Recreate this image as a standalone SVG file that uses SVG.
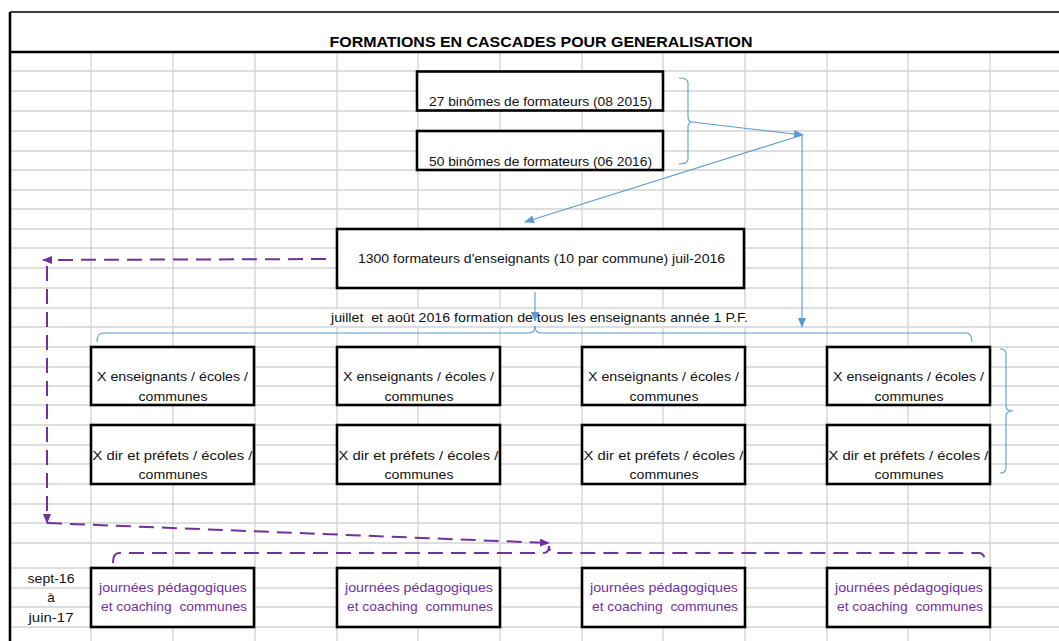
<svg xmlns="http://www.w3.org/2000/svg" width="1059" height="641" viewBox="0 0 1059 641">
<style>
.grid{stroke:#d4d4d4;stroke-width:1.4;fill:none}
.frame{stroke:#000;fill:none}
.box{fill:#fff;stroke:#000;stroke-width:2.6}
text{white-space:pre}
.t{font-family:"Liberation Sans",Arial,sans-serif;font-size:13.5px;fill:#111;text-anchor:middle}
.tp{font-family:"Liberation Sans",Arial,sans-serif;font-size:13.5px;fill:#7030A0;text-anchor:middle}
.title{font-family:"Liberation Sans",Arial,sans-serif;font-size:15px;font-weight:bold;fill:#000;text-anchor:middle}
.blue{stroke:#5B9BD5;stroke-width:1.1;fill:none}
.purple{stroke:#7030A0;stroke-width:2;fill:none;stroke-dasharray:15 8}
</style>
<defs>
<marker id="ab" markerUnits="userSpaceOnUse" markerWidth="10" markerHeight="8" refX="9" refY="4" orient="auto">
<path d="M0,0 L10,4 L0,8 z" fill="#5B9BD5"/>
</marker>
<marker id="ap" markerUnits="userSpaceOnUse" markerWidth="10" markerHeight="8" refX="9" refY="4" orient="auto">
<path d="M0,0 L10,4 L0,8 z" fill="#7030A0"/>
</marker>
</defs>
<rect x="0" y="0" width="1059" height="641" fill="#fff"/>
<g id="grid" class="grid">
<path d="M91,52V641M173,52V641M255,52V641M990,52V641M908,52V641M827,52V641"/>
<path d="M337,52V308M337,327V641M418,52V308M418,327V641M500,52V308M500,327V641M582,52V308M582,327V641M663,52V308M663,327V641M745,52V308M745,327V641"/>
<path d="M10,71H1059M10,91H1059M10,111H1059M10,131H1059M10,151H1059M10,170H1059M10,190H1059M10,209H1059M10,229H1059M10,248H1059M10,268H1059M10,288H1059M10,308H1059M10,327H1059M10,347H1059M10,367H1059M10,386H1059M10,405H1059M10,425H1059M10,445H1059M10,464H1059M10,484H1059M10,504H1059M10,523H1059M10,543H1059M10,568H1059M10,588H1059M10,607H1059M10,627H1059"/>
</g>
<g id="frame">
<path class="frame" stroke-width="1.4" d="M10,12H1059"/>
<path class="frame" stroke-width="2.6" d="M10,52H1059M10,12V641"/>
<text class="title" x="541" y="47" textLength="423" lengthAdjust="spacingAndGlyphs">FORMATIONS EN CASCADES POUR GENERALISATION</text>
</g>
<g id="n-binomes-2015"><rect class="box" x="417" y="71.5" width="246" height="39"/><text class="t" x="540.5" y="106" textLength="223" lengthAdjust="spacingAndGlyphs">27 binômes de formateurs (08 2015)</text></g>
<g id="n-binomes-2016"><rect class="box" x="417" y="131" width="246" height="39"/><text class="t" x="540.5" y="166" textLength="223" lengthAdjust="spacingAndGlyphs">50 binômes de formateurs (06 2016)</text></g>
<g id="n-formateurs"><rect class="box" x="337" y="229" width="407" height="59"/><text class="t" x="541.5" y="263" textLength="367" lengthAdjust="spacingAndGlyphs">1300 formateurs d'enseignants (10 par commune) juil-2016</text></g>
<g id="n-label-juillet"><text class="t" x="539.5" y="322" textLength="417" lengthAdjust="spacingAndGlyphs">juillet  et août 2016 formation de tous les enseignants année 1 P.F.</text></g>
<g id="n-ens-1"><rect class="box" x="91" y="347" width="163" height="58"/><text class="t" x="172.5" y="381" textLength="151" lengthAdjust="spacingAndGlyphs">X enseignants / écoles /</text><text class="t" x="173" y="401" textLength="69" lengthAdjust="spacingAndGlyphs">communes</text></g>
<g id="n-ens-2"><rect class="box" x="337" y="347" width="163" height="58"/><text class="t" x="418.5" y="381" textLength="151" lengthAdjust="spacingAndGlyphs">X enseignants / écoles /</text><text class="t" x="419" y="401" textLength="69" lengthAdjust="spacingAndGlyphs">communes</text></g>
<g id="n-ens-3"><rect class="box" x="582" y="347" width="163" height="58"/><text class="t" x="663.5" y="381" textLength="151" lengthAdjust="spacingAndGlyphs">X enseignants / écoles /</text><text class="t" x="664" y="401" textLength="69" lengthAdjust="spacingAndGlyphs">communes</text></g>
<g id="n-ens-4"><rect class="box" x="827" y="347" width="163" height="58"/><text class="t" x="908.5" y="381" textLength="151" lengthAdjust="spacingAndGlyphs">X enseignants / écoles /</text><text class="t" x="909" y="401" textLength="69" lengthAdjust="spacingAndGlyphs">communes</text></g>
<g id="n-dir-1"><rect class="box" x="91" y="425" width="163" height="59"/><text class="t" x="172.5" y="460" textLength="160" lengthAdjust="spacingAndGlyphs">X dir et préfets / écoles /</text><text class="t" x="173" y="479" textLength="69" lengthAdjust="spacingAndGlyphs">communes</text></g>
<g id="n-dir-2"><rect class="box" x="337" y="425" width="163" height="59"/><text class="t" x="418.5" y="460" textLength="160" lengthAdjust="spacingAndGlyphs">X dir et préfets / écoles /</text><text class="t" x="419" y="479" textLength="69" lengthAdjust="spacingAndGlyphs">communes</text></g>
<g id="n-dir-3"><rect class="box" x="582" y="425" width="163" height="59"/><text class="t" x="663.5" y="460" textLength="160" lengthAdjust="spacingAndGlyphs">X dir et préfets / écoles /</text><text class="t" x="664" y="479" textLength="69" lengthAdjust="spacingAndGlyphs">communes</text></g>
<g id="n-dir-4"><rect class="box" x="827" y="425" width="163" height="59"/><text class="t" x="908.5" y="460" textLength="160" lengthAdjust="spacingAndGlyphs">X dir et préfets / écoles /</text><text class="t" x="909" y="479" textLength="69" lengthAdjust="spacingAndGlyphs">communes</text></g>
<g id="n-periode"><text class="t" x="51" y="583" textLength="47" lengthAdjust="spacingAndGlyphs">sept-16</text><text class="t" x="51" y="602">à</text><text class="t" x="51" y="622" textLength="45" lengthAdjust="spacingAndGlyphs">juin-17</text></g>
<g id="n-jp-1"><rect class="box" x="91" y="568" width="163" height="59"/><text class="tp" x="173" y="592" textLength="148" lengthAdjust="spacingAndGlyphs">journées pédagogiques</text><text class="tp" x="174" y="611" textLength="146" lengthAdjust="spacingAndGlyphs">et coaching  communes</text></g>
<g id="n-jp-2"><rect class="box" x="337" y="568" width="163" height="59"/><text class="tp" x="419" y="592" textLength="148" lengthAdjust="spacingAndGlyphs">journées pédagogiques</text><text class="tp" x="420" y="611" textLength="146" lengthAdjust="spacingAndGlyphs">et coaching  communes</text></g>
<g id="n-jp-3"><rect class="box" x="582" y="568" width="163" height="59"/><text class="tp" x="664" y="592" textLength="148" lengthAdjust="spacingAndGlyphs">journées pédagogiques</text><text class="tp" x="665" y="611" textLength="146" lengthAdjust="spacingAndGlyphs">et coaching  communes</text></g>
<g id="n-jp-4"><rect class="box" x="827" y="568" width="163" height="59"/><text class="tp" x="909" y="592" textLength="148" lengthAdjust="spacingAndGlyphs">journées pédagogiques</text><text class="tp" x="910" y="611" textLength="146" lengthAdjust="spacingAndGlyphs">et coaching  communes</text></g>
<g id="connectors">
<path class="blue" d="M679,78 Q688,78 688,83 L688,117 Q688,122 692,122 Q688,122 688,127 L688,159 Q688,164 679,164"/>
<path class="blue" d="M692,122 L803,135" marker-end="url(#ab)"/>
<path class="blue" d="M802,135 L525,222" marker-end="url(#ab)"/>
<path class="blue" d="M802,135 L802,327" marker-end="url(#ab)"/>
<path class="blue" d="M535,292 L535,321" marker-end="url(#ab)"/>
<path class="blue" d="M97,342 Q97,333 103,333 L529,333 Q535,333 535,326 Q535,333 541,333 L966,333 Q972,333 972,342"/>
<path class="blue" d="M1000,349 Q1006,349 1006,354 L1006,406 Q1006,411 1013,411 Q1006,411 1006,416 L1006,468 Q1006,473 1000,473"/>
<path class="purple" d="M326,259 L43,260" marker-end="url(#ap)"/>
<path class="purple" d="M47,266 L47,523" marker-end="url(#ap)"/>
<path class="purple" d="M47,523 L549,543" marker-end="url(#ap)"/>
<path class="purple" d="M113,563 Q113,553 119,553 L543,553 Q549,553 549,546 Q549,553 555,553 L979,553 Q985,553 985,563"/>
</g>
</svg>
